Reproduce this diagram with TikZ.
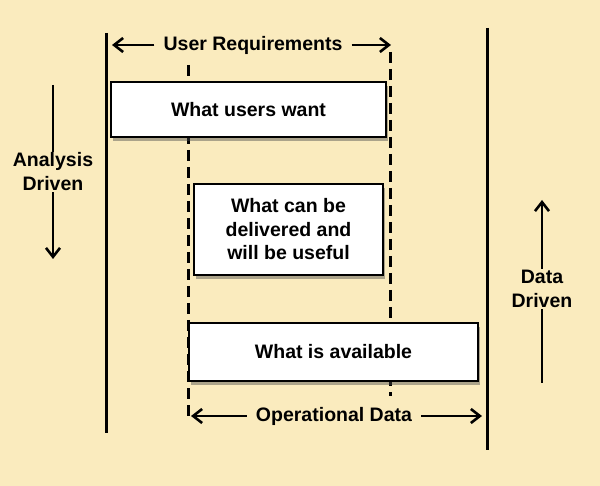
\documentclass[tikz,border=0pt]{standalone}
\usepackage{fontspec}
\setmainfont{Liberation Sans}
\usetikzlibrary{arrows.meta,shadows}
\definecolor{bg}{RGB}{250,235,190}
\begin{document}
\begin{tikzpicture}[x=1pt,y=-1pt,
  lbl/.style={font=\bfseries\fontsize{19.5}{24}\selectfont,align=center,inner sep=1pt},
  boxnode/.style={draw=black,line width=1.4pt,fill=white,font=\bfseries\fontsize{19.5}{23.5}\selectfont,align=center,
    drop shadow={shadow xshift=2pt,shadow yshift=-4pt,fill=black!70,opacity=0.45}},
  solidline/.style={line width=3pt},
  dashline/.style={line width=3pt,dash pattern=on 11pt off 6pt},
  arr/.style={line width=2.6pt,-{Straight Barb[length=9pt,width=14pt,line width=2.6pt]}}
]
\fill[bg] (0,0) rectangle (600,486);
\useasboundingbox (0,0) rectangle (600,486);
% vertical lines
\coordinate (l1t) at (106,33); \coordinate (l1b) at (106,433);
\coordinate (r1t) at (487,28); \coordinate (r1b) at (487,450);
\coordinate (d1t) at (188,65); \coordinate (d1b) at (188,416);
\coordinate (d2t) at (390,52); \coordinate (d2b) at (390,396);
\draw[solidline] (l1t) -- (l1b);
\draw[solidline] (r1t) -- (r1b);
\draw[dashline] (d1t) -- (d1b);
\draw[dashline] (d2t) -- (d2b);
% boxes
\node[boxnode,minimum width=275pt,minimum height=55pt] (b1) at (248.5,109.5) {What users want};
\node[boxnode,minimum width=189pt,minimum height=91pt] (b2) at (288.5,229.5) {What can be\\delivered and\\will be useful};
\node[boxnode,minimum width=289pt,minimum height=58pt] (b3) at (333.5,352) {What is available};
% top label
\node[lbl] (ur) at (253,45) {User Requirements};
\coordinate (urL) at (112,45); \coordinate (urR) at (391,45);
\draw[arr] (ur.west) ++(-8,0) -- (urL);
\draw[arr] (ur.east) ++(8,0) -- (urR);
% bottom label
\node[lbl] (od) at (334,416) {Operational Data};
\coordinate (odL) at (191,416); \coordinate (odR) at (482,416);
\draw[arr] (od.west) ++(-8,0) -- (odL);
\draw[arr] (od.east) ++(8,0) -- (odR);
% left label
\node[lbl] (ad) at (53,172) {Analysis\\Driven};
\coordinate (adT) at (53,85); \coordinate (adB) at (53,259);
\draw[line width=2.6pt] (adT) -- (ad.north);
\draw[arr] (ad.south) -- (adB);
% right label
\node[lbl] (dd) at (542,289) {Data\\Driven};
\coordinate (ddT) at (542,200); \coordinate (ddB) at (542,383);
\draw[arr] (dd.north) -- (ddT);
\draw[line width=2.6pt] (dd.south) -- (ddB);
\end{tikzpicture}
\end{document}
